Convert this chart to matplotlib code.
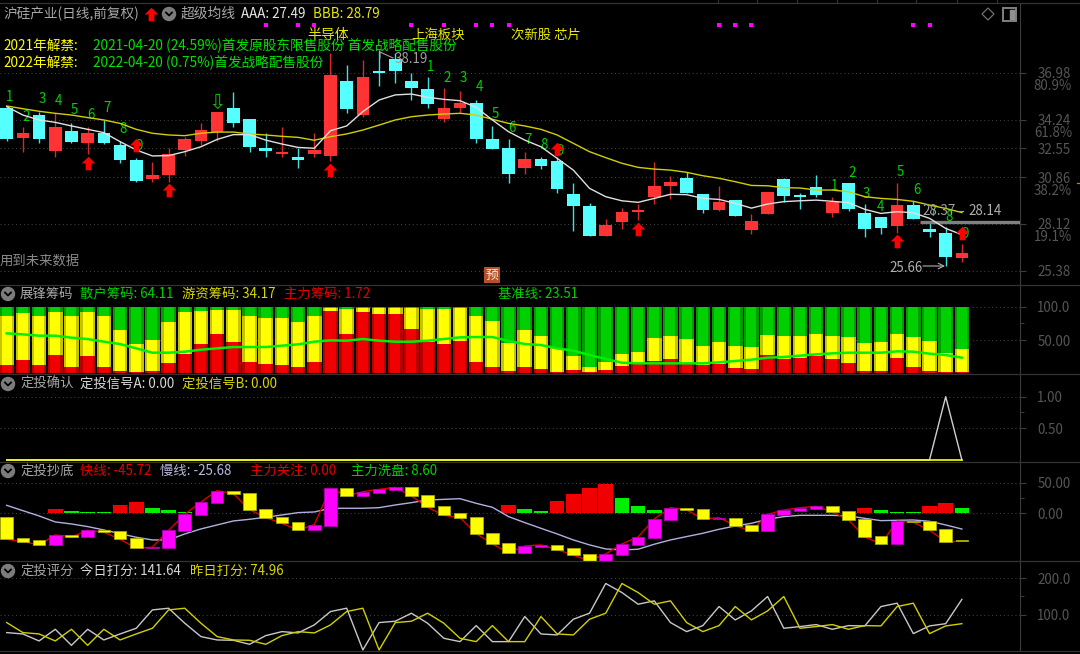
import matplotlib
matplotlib.use('Agg')
import matplotlib.pyplot as plt
import numpy as np
from matplotlib.patches import Circle, Polygon

plt.rcParams['font.family'] = ['Noto Sans CJK SC', 'DejaVu Sans']

# --- K线 ---
opens = [34.94,33.14,34.51,32.42,33.59,32.89,33.44,32.73,31.85,30.74,31.01,32.46,33.01,33.53,34.92,34.26,32.59,32.20,32.05,32.20,
         32.09,36.53,34.53,37.07,37.78,36.53,36.06,34.28,34.94,35.20,33.12,32.59,31.40,31.93,31.79,29.86,29.19,27.41,28.21,28.82,
         29.68,30.35,30.81,29.86,28.94,29.52,27.74,28.68,30.74,29.80,30.27,28.74,30.52,28.74,28.53,28.00,29.21,27.80,27.59,26.14]
closes = [33.08,33.44,33.08,33.79,32.95,33.44,32.89,31.87,30.66,30.97,32.22,33.12,33.65,34.67,34.02,32.61,32.40,32.32,31.89,32.46,
          36.86,34.88,36.72,36.96,37.07,36.08,35.14,34.92,35.20,33.08,32.54,31.07,31.93,31.54,30.15,29.15,27.41,28.06,28.80,28.94,
          30.33,30.60,29.93,28.94,29.41,28.60,28.27,29.99,29.74,29.68,29.82,29.41,29.00,27.80,27.88,29.25,28.41,27.63,26.16,26.39]
highs = [34.94,33.83,34.71,34.61,34.06,33.79,34.22,32.97,31.97,31.73,32.59,33.24,34.06,34.67,35.84,34.26,33.44,33.83,32.56,33.44,
         38.13,37.45,37.74,38.33,38.13,37.00,36.72,36.08,35.94,35.39,33.87,33.08,32.34,32.07,32.07,30.54,29.33,28.41,29.05,29.29,
         31.73,30.93,31.17,29.86,30.35,29.52,28.68,29.99,30.80,29.95,30.99,29.72,30.52,29.29,28.53,30.54,29.47,28.25,27.96,26.94]
lows = [33.01,32.36,32.89,32.07,32.85,32.22,32.81,31.68,30.60,30.60,30.60,32.13,32.75,33.01,33.83,32.36,32.07,32.07,31.42,32.07,
        31.79,34.61,34.37,36.21,36.37,35.39,34.92,34.12,34.65,32.89,32.54,30.54,31.05,31.32,29.95,27.72,27.41,27.41,27.80,28.35,
        29.29,29.60,29.91,28.74,28.88,28.60,27.55,28.68,29.39,29.02,29.72,28.55,28.88,27.33,27.53,27.61,28.41,27.35,25.66,25.89]
aaa = [35.00,34.51,34.22,34.08,33.87,33.67,33.48,32.95,32.46,32.11,32.13,32.36,32.65,33.08,33.36,33.36,33.04,32.81,32.61,32.56,
       33.59,33.87,34.71,35.39,35.69,35.74,35.55,35.43,35.35,34.96,34.22,33.53,33.04,32.65,31.97,31.28,30.21,29.72,29.48,29.39,
       29.62,29.86,29.84,29.62,29.56,29.33,29.05,29.29,29.43,29.48,29.52,29.45,29.37,28.98,28.74,28.84,28.78,28.45,27.86,27.49]
bbb = [35.04,34.88,34.73,34.61,34.51,34.36,34.22,34.02,33.67,33.44,33.34,33.30,33.44,33.51,33.51,33.40,33.34,33.26,33.20,33.03,
       33.24,33.40,33.63,33.92,34.22,34.41,34.51,34.57,34.61,34.51,34.26,34.02,33.87,33.67,33.34,32.85,32.36,32.01,31.68,31.44,
       31.34,31.28,31.15,30.95,30.80,30.60,30.38,30.36,30.25,30.23,30.11,30.11,30.01,29.72,29.62,29.56,29.45,29.23,29.03,28.79]

# --- 展锋筹码 ---
chip_main = [12,20,12,27,10,25.5,10,3.5,1.5,3.5,15,29,44,59,47.5,16.5,13.5,12,10,16.5,
             93.5,59,91.5,88.5,88.5,66,47.5,44,49,16.5,10,3.5,10,6.5,1.5,5,1.5,5,11.5,13.5,
             18.5,22,13.5,12,13.5,8.5,6.5,27,22,23.5,25.5,22,15,3.5,3.5,23.5,10,3.5,1.5,1.72]
chip_hot = [74.5,70,74.5,65,76.5,66.5,76.5,61.5,42.5,46,61.5,63,49.5,36,47.5,70,69.5,71,66.5,70,
            5,37.5,7,10,10,32.5,49,52.5,49.5,70,68,42,55,49.5,36,20.5,8.5,12,17.5,18.5,
            34.5,34,37.5,29,34,32.5,32.5,30.5,34,32.5,33.5,34,39.5,42,44,35.5,44.5,45.5,29,34.17]
chip_base = [60,58.5,56.5,56.5,53.5,51.5,47.5,44,37.5,31,31,32.5,35.5,37.5,39.5,39.5,39.5,41.5,43.5,47.5,
             49.5,49,51.5,49,47.5,47.5,49,51.5,54,54.5,54.5,48.5,44,42.5,37.5,34,27.5,21.5,16,15,
             15,15,15,15,16.5,18.5,20.5,23.5,24.5,26.5,28.5,30,31,31,31,33,32.5,29.5,27.5,23.51]

# --- 定投确认 ---
signal_a = [0]*58 + [1, 0]
signal_b = [0]*60

# --- 定投抄底 ---
fast_open = [-5.4,-40.8,-44.0,-51.6,-35.3,-38.6,-27.7,-29.3,-40.8,-57.1,-57.1,-29.3,-3.3,16.8,37.0,33.7,7.1,-5.4,-14.7,-27.7,
             -20.1,40.8,28.3,33.7,37.5,42.4,29.9,11.4,0,-5.4,-31.5,-47.8,-64.7,-55.4,-51.6,-57.1,-66.3,-77.7,-68.5,-51.6,
             -40.8,-10.9,9.2,7.6,-9.2,-7.1,-18.5,-29.3,-3.3,3.8,7.6,11.4,3.8,-9.2,-37.0,-50.0,-13.0,-13.0,-25.5,-43.6]
fast_close = [-42.4,-46.2,-51.6,-35.3,-38.6,-27.7,-31.0,-42.4,-57.1,-55.4,-27.7,-1.6,18.5,37.0,32.1,6.0,-7.1,-16.3,-27.7,-18.5,
              40.8,28.3,35.3,39.1,42.4,28.3,9.8,-3.3,-7.1,-33.2,-50.0,-64.7,-53.3,-51.6,-59.2,-68.5,-77.7,-66.3,-50.0,-38.6,
              -9.2,9.2,5.4,-9.2,-7.1,-20.1,-29.3,-1.6,5.4,9.2,11.4,2.2,-10.9,-38.6,-50.0,-13.0,-14.7,-27.7,-46.2,-45.72]
slow = [13.0,4.3,-4.3,-14.1,-17.4,-21.7,-27.2,-33.2,-39.1,-43.5,-43.5,-33.7,-25.5,-19.0,-12.5,-9.8,-6.5,-2.7,1.1,2.2,
        8.2,8.2,8.2,9.2,13.6,17.4,21.7,22.8,23.9,16.3,9.8,-5.4,-15.2,-24.5,-33.7,-43.5,-51.6,-58.2,-59.8,-58.7,
        -50.5,-43.5,-38.0,-32.6,-26.1,-20.7,-16.3,-9.8,-5.4,-3.3,-3.3,-3.3,-4.3,-8.2,-12.0,-11.4,-10.9,-13.0,-19.0,-25.68]
focus = [0,0,0,7.6,0,0,0,13,18.5,0,0,0,0,0,0,0,0,0,0,0,
         0,0,0,0,0,0,0,0,0,0,0,13,0,0,20.7,31.5,40.8,48.4,0,0,
         0,0,0,0,0,0,0,0,0,0,0,0,0,9.2,0,0,0,11.4,17,0]
wash = [0,0,0,0,3.8,2.2,2.2,0,0,9.2,5.4,2.2,0.6,0.6,0.6,0.6,0.6,0.6,0.6,0.6,
        0.6,0.6,0.6,0.6,0.6,0.6,0.6,0.6,0.6,0.6,0.6,0,7.6,3.8,0,0,0,0,24.5,11.4,
        5.4,0.6,0.6,0.6,0.6,0.6,0.6,0.6,0.6,0.6,0.6,0.6,0.6,0,5.4,2.2,2.2,0,0,8.6]

# --- 定投评分 ---
score_today = [50.5,46.8,27.6,59.6,15.6,59.6,30.3,46.8,62.4,112.8,117.4,76.2,39.5,30.3,29.4,18.4,42.2,53.2,49.6,71.6,
               108.3,117.4,2.8,78,81.7,103.7,76.2,34.9,25.7,69.7,25.7,25.7,94.5,46.8,44.1,87.2,103.7,185.3,160.5,128.4,
               137.6,78,53.2,69.7,122,85.3,110.1,149.5,62.4,67,72.5,59.6,69.7,68.8,122,131.2,47.7,68.8,74.96,141.64]
score_prev = [78,50.5,46.8,27.6,59.6,15.6,59.6,30.3,46.8,62.4,112.8,117.4,76.2,39.5,30.3,29.4,18.4,42.2,53.2,49.6,
              71.6,108.3,117.4,2.8,78,81.7,103.7,76.2,34.9,25.7,69.7,25.7,25.7,94.5,46.8,44.1,87.2,103.7,185.3,160.5,
              128.4,137.6,78,53.2,69.7,122,85.3,110.1,149.5,62.4,67,72.5,59.6,69.7,68.8,122,131.2,47.7,68.8,74.96]

# --- 标注 ---
td_labels = ['1','2','3','4','5','6','7','8','9'] * 3
td_days = [0.2,1.2,2.2,3.2,4.2,5.2,6.2,7.2,8.2,
           26.2,27.2,28.2,29.2,30.2,31.2,32.2,33.2,34.2,
           51.15,52.2,53.1,54.0,55.2,56.2,57.2,58.2,59.2]
td_prices = [35.59,34.41,35.43,35.33,34.81,34.53,34.94,33.69,32.71,
             37.35,36.66,36.70,36.14,34.57,33.73,33.04,32.75,32.42,
             30.37,31.09,29.88,29.13,31.15,30.11,28.84,28.55,27.51]
buy_days = [5,8,10,20,34,39,55,59]
buy_prices = [31.68,32.75,30.11,31.28,32.52,27.84,27.10,27.57]
dot_days = [16,18,19,25,27,29,30,31,44,45,46,56,57]

price_ticks = [36.98,34.24,32.55,30.86,28.12,25.38]
pct_labels = [('80.9%',86),('61.8%',133),('38.2%',191),('19.1%',237)]

W, H = 1080, 654
AXIS_X = 1020
GRID = '#3c3c3c'
TICK = '#565656'
GREY = '#a8a8a8'
FS = 9.6

fig = plt.figure(figsize=(W/100, H/100), dpi=100, facecolor='black')
days = np.arange(len(opens))
xlim = (-0.414, 62.59)
ARROW = [(-1,0),(0,1),(1,0),(0.42,0),(0.42,-1),(-0.42,-1),(-0.42,0),(-1,0)]


def panel(y1, y2, ylim, ticks, labels, minor=None):
    ax = fig.add_axes([0, 1-y2/H, AXIS_X/W, (y2-y1)/H])
    ax.set_facecolor('none')
    ax.set_xlim(*xlim)
    ax.set_ylim(*ylim)
    ax.set_xticks([])
    ax.yaxis.tick_right()
    ax.set_yticks(ticks)
    ax.set_yticklabels(labels)
    if minor:
        ax.set_yticks(minor, minor=True)
    ax.tick_params(axis='y', which='major', length=4.5, width=0.8, color=GRID,
                   labelcolor=TICK, labelsize=9.6, pad=8)
    ax.tick_params(axis='y', which='minor', length=3, width=0.8, color=GRID)
    for name, sp in ax.spines.items():
        sp.set_visible(name == 'right')
        sp.set_color(GRID)
    ax.grid(axis='y', which='major', color='#4a4a4a', linestyle=(0, (1, 3)), linewidth=0.7)
    ax.set_axisbelow(True)
    return ax


def shaded_bar(ax, heights, bottom, dark, bright):
    # 柱子两边暗, 中间亮
    ax.bar(days, heights, 0.9, bottom=bottom, color=dark, linewidth=0, zorder=3)
    ax.bar(days, heights, 0.62, bottom=bottom, color=bright, linewidth=0, zorder=3.1)


# 主图
ax = panel(3, 284, (24.60, 41.08), price_ticks, [f'{t:.2f}' for t in price_ticks])
up = np.array(closes) >= np.array(opens)
body_low = np.minimum(opens, closes)
body_h = np.abs(np.array(closes) - np.array(opens))
colors = np.where(up, '#ff3333', '#55ffff')
for x, t, y in zip(td_days, td_labels, td_prices):
    ax.text(x, y, t, color='#00d000', fontsize=9.6, ha='center', va='center', zorder=2)
ax.text(13, 35.2, '⇩', color='#00c000', fontsize=15, ha='center', va='center',
        family='DejaVu Sans', zorder=2)
ax.vlines(days, lows, highs, colors=['#d82828' if u else '#40e0e0' for u in up], linewidth=1, zorder=3)
ax.bar(days, body_h, 0.78, bottom=body_low, color=colors, linewidth=0, zorder=4)
ax.plot(days, bbb, color='#d0d000', linewidth=1, zorder=5)
ax.plot(days, aaa, color='#e0e0e0', linewidth=1, zorder=6)
ax.scatter(buy_days, buy_prices, marker=ARROW, s=95, color='#ff0000', linewidths=0, zorder=7)
ax.scatter(dot_days, [39.81]*len(dot_days), marker='s', s=5, color='#ff00ff', linewidths=0, zorder=7)
ax.hlines(28.25, 56.4, xlim[1], color='#808080', linewidth=2.4, zorder=5)

# 展锋筹码
ax2 = panel(285, 374, (-1, 132.6), [50, 100], ['50.00', '100.0'], minor=[75])
chip_retail = 100 - np.array(chip_main) - np.array(chip_hot)
shaded_bar(ax2, chip_main, 0, '#b40000', '#f00000')
shaded_bar(ax2, chip_hot, np.array(chip_main), '#c4c400', '#ffff00')
shaded_bar(ax2, chip_retail, np.array(chip_main)+np.array(chip_hot), '#009c00', '#00d000')
ax2.plot(days, chip_base, color='#00f000', linewidth=1.8, zorder=4)

# 定投确认
ax3 = panel(374, 461.5, (-0.024, 1.358), [0.5, 1], ['0.50', '1.00'], minor=[0.75])
ax3.plot(days, signal_a, color='#d0d0d0', linewidth=1, zorder=3)
ax3.plot(days, signal_b, color='#ffff00', linewidth=1.2, zorder=4)

# 定投抄底
ax4 = panel(461.5, 561, (-77.9, 84.6), [0, 50], ['0.00', '50.00'], minor=[25])
ax4.bar(days, focus, 0.9, color='#f00000', linewidth=0, zorder=3)
ax4.bar(days, wash, 0.9, color='#00f000', linewidth=0, zorder=3)
ax4.plot(days, slow, color='#b0b0e0', linewidth=1, zorder=3.5)
ax4.plot(days, fast_close, color='#d80000', linewidth=1, zorder=4)
fast_up = np.array(fast_close) >= np.array(fast_open)
ax4.bar(days, np.abs(np.array(fast_close)-np.array(fast_open)), 0.78,
        bottom=np.minimum(fast_open, fast_close),
        color=np.where(fast_up, '#ff00ff', '#ffff00'),
        edgecolor=np.where(fast_up, '#b000b0', '#a8a800'), linewidth=0.6, zorder=5)

# 定投评分
ax5 = panel(561, 651, (0, 247), [100, 200], ['100.0', '200.0'], minor=[150])
ax5.plot(days, score_today, color='#c8c8c8', linewidth=1, zorder=3)
ax5.plot(days, score_prev, color='#d0d000', linewidth=1, zorder=4)

# 文字层, 坐标按像素
ov = fig.add_axes([0, 0, 1, 1], facecolor='none')
ov.set_xlim(0, W)
ov.set_ylim(H, 0)
ov.axis('off')


def label(x, y, s, color, size=FS, ha='left'):
    ov.text(x, y, s, color=color, fontsize=size, ha=ha, va='center', zorder=10)


def chevron(x, y):
    ov.add_patch(Circle((x, y), 6.5, color='#7c7c7c', zorder=10))
    ov.plot([x-3, x, x+3], [y-1.5, y+1.5, y-1.5], color='black', linewidth=1.3, zorder=11)


for y in [3, 284.5, 374, 461.5, 561, 651]:
    ov.plot([0, W], [y, y], color='#333333', linewidth=0.9)
for x in [718, 757, 797, 837, 877, 916, 957, 997]:
    ov.plot([x, x], [0, 3], color='#333333', linewidth=0.8)
ov.plot([1077, 1080], [183, 183], color='#c08020', linewidth=0.9)

label(3, 14, '沪硅产业(日线,前复权)', GREY, size=9.8)
ov.scatter([151], [14], marker=ARROW, s=95, color='#ff0000', linewidths=0, zorder=10)
chevron(169, 14)
label(181, 14, '超级均线', GREY, size=9.9)
label(241, 14, 'AAA: 27.49', '#e8e8e8')
label(313, 14, 'BBB: 28.79', '#e8e800')
label(307, 35, '半导体', '#e8e800', size=10)
label(411, 35, '上海板块', '#e8e800')
label(511, 35, '次新股 芯片', '#e8e800')
label(3, 46, '2021年解禁:', '#ffff00', size=9.8)
label(93, 46, '2021-04-20 (24.59%)首发原股东限售股份 首发战略配售股份', '#00e000', size=9.85)
label(3, 63, '2022年解禁:', '#ffff00', size=9.8)
label(93, 63, '2022-04-20 (0.75%)首发战略配售股份', '#00e000', size=9.85)
label(0, 261, '用到未来数据', '#8a8a8a')
ov.text(492, 275, '预', color='#ffe8d8', fontsize=9.2, ha='center', va='center', zorder=10,
        bbox=dict(boxstyle='square,pad=0.15', facecolor='#b4502a', edgecolor='none'))

label(395, 59, '38.19', '#a0a0a0')
ov.plot([380, 380, 393], [58, 52, 58], color='#a0a0a0', linewidth=0.8, zorder=8)
label(922, 211, '28.37', '#a0a0a0')
label(968, 211, '28.14', '#b0b0b0')
ov.plot([959, 963], [211, 211], color='#a0a0a0', linewidth=0.8)
label(889, 268, '25.66', '#b0b0b0')
ov.annotate('', xy=(945, 266), xytext=(923, 266),
            arrowprops=dict(arrowstyle='->', color='#b0b0b0', linewidth=0.8, shrinkA=0, shrinkB=0))

for s, y in pct_labels:
    label(1072, y, s, TICK, ha='right')

ov.add_patch(Polygon([(988, 8), (994, 14), (988, 20), (982, 14)], fill=False, edgecolor='#707070', linewidth=0.9))
ov.add_patch(plt.Rectangle((1003, 8), 13, 13, fill=False, edgecolor='#808080', linewidth=1.4))
ov.add_patch(plt.Rectangle((1010, 10), 4, 9, color='#909090'))

chevron(8, 294)
label(20, 294, '展锋筹码', GREY)
label(80, 294, '散户筹码: 64.11', '#00d000')
label(182, 294, '游资筹码: 34.17', '#d8d800')
label(284, 294, '主力筹码: 1.72', '#e00000')
label(498, 294, '基准线: 23.51', '#00d000')

chevron(8, 384)
label(20, 384, '定投确认', GREY)
label(80, 384, '定投信号A: 0.00', '#d8d8d8')
label(182, 384, '定投信号B: 0.00', '#d8d800')

chevron(8, 471)
label(20, 471, '定投抄底', GREY)
label(80, 471, '快线: -45.72', '#e00000')
label(160, 471, '慢线: -25.68', '#b8b8e0')
label(250, 471, '主力关注: 0.00', '#e00000')
label(351, 471, '主力洗盘: 8.60', '#00d000')

chevron(8, 571)
label(20, 571, '定投评分', GREY)
label(80, 571, '今日打分: 141.64', '#d8d8d8')
label(190, 571, '昨日打分: 74.96', '#d8d800')

fig.savefig('out.png', dpi=100, facecolor='black')
